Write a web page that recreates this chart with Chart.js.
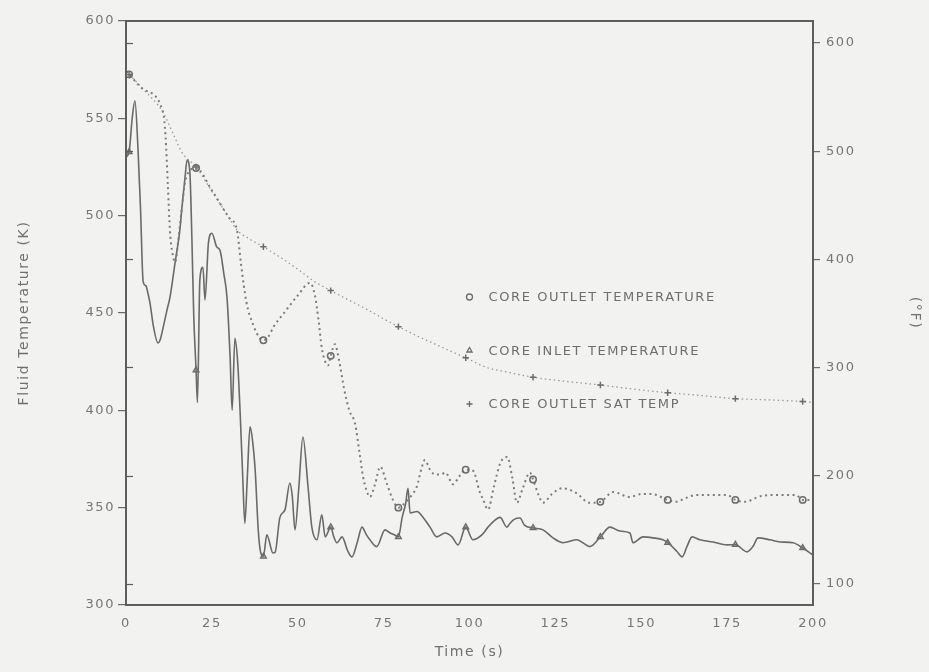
<!DOCTYPE html>
<html>
<head>
<meta charset="utf-8">
<title>Fluid temperature vs time</title>
<script src="https://cdn.jsdelivr.net/npm/chart.js@4/dist/chart.umd.min.js"></script>
<style>
  html, body { margin: 0; padding: 0; background: #f2f2f0; }
  canvas { display: block; }
</style>
</head>
<body>
<canvas id="chart" width="929" height="672"></canvas>
<script>
// Axis ticks
const timeTicks = [0, 25, 50, 75, 100, 125, 150, 175, 200];
const kelvinTicks = [300, 350, 400, 450, 500, 550, 600];
const fahrenheitTicks = [100, 200, 300, 400, 500, 600];

// Series labels
const seriesLabels = ['CORE OUTLET TEMPERATURE', 'CORE INLET TEMPERATURE', 'CORE OUTLET SAT TEMP'];

// Times (s) at which each curve carries its symbol
const markerTimes = [0.9, 20.4, 40.0, 59.6, 79.3, 98.9, 118.5, 138.1, 157.7, 177.4, 197.0];

// Core outlet temperature (K)
const outletTime = [0, 0.9, 5, 10.8, 11.5, 12.2, 12.8, 13.6, 14.3, 15.2, 16.2, 17.2, 18.5, 20.4, 25, 30, 32.3, 33.5, 35, 37,
  39, 40.0, 41.5, 43, 46, 50, 53.6, 55, 56, 57, 58, 58.8, 59.6, 60.8, 62, 63.5, 65, 66.7, 68, 69,
  70, 71, 72.5, 74, 76, 77.7, 79.3, 81, 83, 84.7, 86, 87, 88.5, 90, 91.5, 93, 95.2, 97, 98.9, 101,
  103, 104, 105.4, 107, 109, 111, 112.5, 113.8, 115.5, 117.6, 118.5, 120, 121.4, 124, 127, 131, 135, 138.1, 141.8, 146.7,
  150, 153, 157.7, 160, 163, 166, 170, 175, 177.4, 180, 185, 190, 195, 197.0, 200];
const outletK = [574, 572.5, 565, 553, 541, 515, 492, 480, 476, 487, 503, 517, 523, 524.5, 513, 499, 492.7, 475, 456, 444,
  437, 436, 438, 443, 450, 459, 465.5, 459, 447, 432, 425, 423, 428, 434, 426, 411, 400, 393, 378, 366,
  359, 355.5, 362, 371, 362, 354, 350, 352, 356, 361, 370, 374.5, 369.5, 367, 367, 368, 362, 366, 369.5, 369,
  358, 354, 349, 360, 373, 376, 365, 352.5, 360, 368, 364.5, 357, 352.5, 357, 360, 357.6, 352.5, 353, 358, 355.5,
  357, 357, 354, 353, 355, 356.5, 356.5, 356.5, 354, 353, 356, 356.5, 356.5, 354, 354];

// Core inlet temperature (K)
const inletTime = [0, 0.9, 1.8, 2.6, 3.5, 4.2, 5, 5.8, 6.4, 7, 8, 9.3, 9.9, 11, 12, 12.8, 14.3, 15.7, 16.3, 17.2,
  17.8, 18.6, 19.2, 19.7, 20.4, 20.8, 21.5, 22.4, 23, 24, 25, 26.4, 27.4, 28.5, 29.4, 30.3, 30.9, 31.7, 32.5, 33.2,
  34, 34.6, 35.3, 36.1, 36.8, 37.6, 38.5, 39.2, 40.0, 41, 42.8, 43.4, 44.8, 46.3, 47.7, 48.4, 49.2, 50.3, 51.5, 53,
  54.1, 55.6, 57, 58, 59.6, 60.5, 61.4, 62.9, 64.5, 65.8, 67.3, 68.7, 70, 71, 73, 75.4, 76.9, 78.2, 79.3, 80.4,
  81.4, 82.1, 82.7, 84.7, 86.5, 88.5, 90.5, 92.9, 94.9, 96.7, 98.9, 101, 103.6, 105.4, 107, 108.9, 110.9, 111.8, 113, 114.7,
  116, 118.5, 121.4, 124.3, 127.2, 131.3, 133, 135, 138.1, 140.9, 143.8, 146.7, 147.6, 150.5, 153.4, 156.3, 157.7, 160.4, 161.9, 163.3,
  164.8, 167.1, 170.9, 175, 177.4, 180.8, 182.5, 184, 187.5, 190.4, 194.2, 197.0, 200];
const inletK = [530, 532.7, 550, 559, 534, 505, 466, 464, 460, 455, 443, 434.6, 436, 444, 452, 458, 476, 493, 504.5, 520,
  528.6, 522, 487, 450, 420.7, 404, 467, 473.5, 456.7, 486, 491, 484, 482, 470, 458, 427.5, 400, 437, 425, 400,
  365, 342, 365, 391.5, 385, 369.4, 338.6, 327, 325, 336, 326.7, 327, 345, 349, 362.7, 356, 338.6, 360, 386.3, 360.6,
  340, 333.5, 346.3, 335, 340, 335, 332, 335, 328, 324.7, 332, 340, 336, 333.5, 330, 338.6, 337, 336, 335, 345,
  352, 360, 347.3, 348, 345, 340, 335, 337, 335, 330.9, 340, 333.5, 336, 340, 343, 345, 340, 342, 344, 344.7,
  341, 339.6, 338.6, 334.5, 332, 333.5, 332, 330, 335, 340, 338, 337, 332, 335, 334.5, 333.5, 332, 327.5, 324.7, 330,
  335, 333.5, 332.4, 330.9, 331, 327.3, 330, 334.5, 333.5, 332.4, 332, 329.3, 325.7];

// Core outlet saturation temperature (K)
const satTime = [0, 0.9, 5, 10.8, 14, 16.3, 20.4, 25, 30, 32.3, 36, 40.0, 45, 50, 55, 59.6, 65, 70, 75, 79.3,
  85, 90, 95, 98.9, 105, 110, 118.5, 125, 138.1, 145, 157.7, 165, 177.4, 185, 197.0, 200];
const satK = [574, 572.5, 565, 553, 541, 532.5, 525, 512.5, 499, 492.7, 488, 484, 478.5, 472.5, 466, 461.5, 456.5, 452, 447, 443,
  438, 434, 430, 427, 422, 420, 417, 415.5, 413, 411.5, 409, 408, 406, 405.5, 404.5, 404];

const K_MIN = 300, K_MAX = 600;
const toF = k => k * 9 / 5 - 459.67;
const pairs = (ts, vs) => ts.map((t, i) => ({ x: t, y: vs[i] }));
const isMarker = t => markerTimes.some(m => Math.abs(m - t) < 1e-6);

const INK = '#6c6c6c';
const FONT = '"DejaVu Sans", "Liberation Sans", sans-serif';

Chart.defaults.font.family = FONT;
Chart.defaults.font.size = 13;
Chart.defaults.color = '#767676';

// Paper background, frame, inward ticks and spaced plotter-style lettering
const paper = {
  id: 'paper',
  beforeUpdate(chart) { chart.ctx.letterSpacing = '1.6px'; },
  beforeDraw(chart) {
    const { ctx, width, height } = chart;
    ctx.save();
    ctx.fillStyle = '#f2f2f0';
    ctx.fillRect(0, 0, width, height);
    ctx.restore();
    ctx.letterSpacing = '1.6px';
  },
  afterDraw(chart) {
    const { ctx, chartArea: a, scales } = chart;
    ctx.save();
    ctx.strokeStyle = '#5e5e5e';
    ctx.lineWidth = 2;
    ctx.strokeRect(a.left, a.top, a.right - a.left, a.bottom - a.top);
    ctx.lineWidth = 1.2;
    fahrenheitTicks.forEach(v => {
      const y = Math.round(scales.yF.getPixelForValue(v)) + 0.5;
      ctx.beginPath();
      ctx.moveTo(a.left, y);
      ctx.lineTo(a.left + 7, y);
      ctx.stroke();
    });
    ctx.restore();
  }
};

// Symbol key drawn inside the plotting area
const insideKey = {
  id: 'insideKey',
  afterDatasetsDraw(chart) {
    const { ctx, chartArea: a, scales } = chart;
    const x0 = scales.x.getPixelForValue(100);
    ctx.save();
    ctx.font = '13px ' + FONT;
    ctx.letterSpacing = '1.6px';
    ctx.textBaseline = 'middle';
    ctx.textAlign = 'left';
    chart.data.datasets.forEach((ds, i) => {
      const y = a.top + 276 + i * 53.5;
      ctx.strokeStyle = INK;
      ctx.fillStyle = 'rgba(0,0,0,0)';
      ctx.lineWidth = 1.3;
      Chart.helpers.drawPoint(ctx, { pointStyle: ds.pointStyle, radius: 3, rotation: 0, borderWidth: 1.3 }, x0, y);
      ctx.fillStyle = '#6e6e6e';
      ctx.fillText(ds.label, x0 + 19, y + 1);
    });
    ctx.restore();
  }
};

const markerRadius = c => (c.raw && isMarker(c.raw.x)) ? 3.2 : 0;

new Chart(document.getElementById('chart'), {
  type: 'line',
  data: {
    datasets: [
      {
        label: seriesLabels[0],
        data: pairs(outletTime, outletK),
        borderColor: '#7c7c7c',
        borderWidth: 2,
        borderDash: [2, 3.5],
        pointStyle: 'circle',
        pointRadius: markerRadius,
        pointBorderColor: INK,
        pointBackgroundColor: 'rgba(0,0,0,0)',
        pointBorderWidth: 1.5,
        cubicInterpolationMode: 'monotone',
        yAxisID: 'y'
      },
      {
        label: seriesLabels[1],
        data: pairs(inletTime, inletK),
        borderColor: '#6a6a6a',
        borderWidth: 1.6,
        pointStyle: 'triangle',
        pointRadius: markerRadius,
        pointBorderColor: INK,
        pointBackgroundColor: 'rgba(0,0,0,0)',
        pointBorderWidth: 1.5,
        cubicInterpolationMode: 'monotone',
        yAxisID: 'y'
      },
      {
        label: seriesLabels[2],
        data: pairs(satTime, satK),
        borderColor: '#9a9a9a',
        borderWidth: 1.3,
        borderDash: [1.5, 3],
        pointStyle: 'cross',
        pointRadius: markerRadius,
        pointBorderColor: INK,
        pointBorderWidth: 1.5,
        cubicInterpolationMode: 'monotone',
        yAxisID: 'y'
      }
    ]
  },
  options: {
    responsive: false,
    animation: false,
    devicePixelRatio: 1,
    layout: { padding: { top: 21, left: 0, right: 0, bottom: 0 } },
    plugins: {
      legend: { display: false },
      tooltip: { enabled: false }
    },
    scales: {
      x: {
        type: 'linear',
        min: timeTicks[0],
        max: timeTicks[timeTicks.length - 1],
        afterBuildTicks: s => { s.ticks = timeTicks.map(v => ({ value: v })); },
        afterFit: s => { s.height = 67; },
        border: { display: false },
        grid: { display: true, drawOnChartArea: false, drawTicks: false },
        ticks: { padding: 11, color: '#767676', font: { size: 13 } },
        title: { display: true, text: 'Time (s)', color: '#707070', font: { size: 14 }, padding: { top: 0, bottom: 11 } }
      },
      y: {
        type: 'linear',
        position: 'left',
        min: K_MIN,
        max: K_MAX,
        afterBuildTicks: s => { s.ticks = kelvinTicks.map(v => ({ value: v })); },
        afterFit: s => { s.width = 126; },
        border: { display: false },
        grid: { drawOnChartArea: false, drawTicks: true, tickLength: 8, color: '#6a6a6a', lineWidth: 1.2 },
        ticks: { padding: 3, color: '#767676', font: { size: 13 } },
        title: { display: true, text: 'Fluid Temperature (K)', color: '#707070', font: { size: 14 }, padding: { top: 16, bottom: 0 } }
      },
      yF: {
        type: 'linear',
        position: 'right',
        min: toF(K_MIN),
        max: toF(K_MAX),
        afterBuildTicks: s => { s.ticks = fahrenheitTicks.map(v => ({ value: v })); },
        afterFit: s => { s.width = 116; },
        border: { display: false },
        grid: { drawOnChartArea: false, drawTicks: true, tickLength: 7, color: '#6a6a6a', lineWidth: 1.2 },
        ticks: { padding: 6, color: '#767676', font: { size: 13 } },
        title: { display: true, text: '(°F)', color: '#707070', font: { size: 14 }, padding: { top: 6, bottom: 0 } }
      }
    }
  },
  plugins: [paper, insideKey]
});
</script>
</body>
</html>
